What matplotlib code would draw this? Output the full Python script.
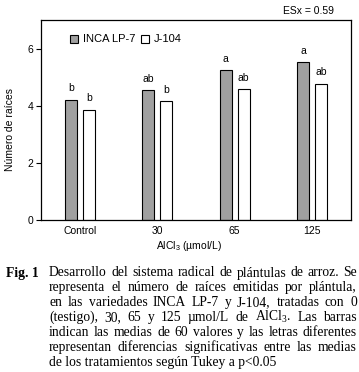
import numpy as np
import matplotlib
matplotlib.use("Agg")
import matplotlib.pyplot as plt
from matplotlib.patches import Patch

# data
categories = ["Control", "30", "65", "125"]
inca = [4.21, 4.55, 5.24, 5.52]
j104 = [3.86, 4.17, 4.58, 4.77]
letters_inca = ["b", "ab", "a", "a"]
letters_j104 = ["b", "b", "ab", "ab"]
yticks = [0, 2, 4, 6]

caption_lines = [
    "Desarrollo del sistema radical de plántulas de arroz. Se",
    "representa el número de raíces emitidas por plántula,",
    "en las variedades INCA LP-7 y J-104, tratadas con 0",
    r"(testigo), 30, 65 y 125 µmol/L de $\mathregular{AlCl_3}$. Las barras",
    "indican las medias de 60 valores y las letras diferentes",
    "representan diferencias significativas entre las medias",
    "de los tratamientos según Tukey a p<0.05",
]

SANS = "Liberation Sans"
SERIF = "Liberation Serif"
GRAY = "#a0a0a0"
W, H = 359, 372

fig = plt.figure(figsize=(W / 100, H / 100), dpi=100)
ax = fig.add_axes([41 / W, 1 - 220 / H, 310 / W, 200 / H])

x = np.arange(len(categories))
bw = 0.16
off = 0.116
ax.bar(x - off, inca, bw, color=GRAY, edgecolor="black", linewidth=0.8)
ax.bar(x + off, j104, bw, color="white", edgecolor="black", linewidth=0.8)

for xi, v, s in zip(x - off, inca, letters_inca):
    ax.annotate(s, (xi, v), xytext=(0, 4.5), textcoords="offset points",
                ha="center", va="bottom", fontsize=7.5, family=SANS)
for xi, v, s in zip(x + off, j104, letters_j104):
    ax.annotate(s, (xi, v), xytext=(0, 4.5), textcoords="offset points",
                ha="center", va="bottom", fontsize=7.5, family=SANS)

ax.set_xlim(-0.5, 3.5)
ax.set_ylim(0, 7)
ax.set_yticks(yticks)
ax.set_xticks(x)
ax.set_xticklabels(categories)
ax.tick_params(axis="x", length=0, pad=4)
ax.tick_params(axis="y", length=3.6, width=0.8, pad=2)
for lab in ax.get_xticklabels() + ax.get_yticklabels():
    lab.set_fontfamily(SANS)
    lab.set_fontsize(7.5)
for sp in ax.spines.values():
    sp.set_linewidth(0.9)

fig.text(10 / W, 1 - 129.5 / H, "Número de raíces", family=SANS, fontsize=7.5,
         rotation=90, ha="center", va="center")
fig.text(189 / W, 1 - 246 / H, r"$\mathregular{AlCl_3}$ (µmol/L)",
         family=SANS, fontsize=7.5, ha="center", va="center")
fig.text(334 / W, 1 - 11 / H, "ESx = 0.59", family=SANS, fontsize=7.5,
         ha="right", va="center")

handles = [Patch(facecolor=GRAY, edgecolor="black", linewidth=0.8),
           Patch(facecolor="white", edgecolor="black", linewidth=0.8)]
ax.legend(handles, ["INCA LP-7", "J-104"], ncol=2, loc="center left",
          bbox_to_anchor=(0.095, 0.9025), frameon=False, borderpad=0,
          borderaxespad=0, handlelength=0.72, handleheight=0.72,
          handletextpad=0.4, columnspacing=0.55,
          prop={"family": SANS, "size": 8})

# caption, justified like the printed figure
fig.text(6 / W, 1 - 276.5 / H, "Fig. 1", family=SERIF, fontsize=9.8,
         weight="bold", va="baseline")
renderer = fig.canvas.get_renderer()
x0, x1 = 49, 357
for i, line in enumerate(caption_lines):
    yb = 1 - (276.5 + i * 14.9) / H
    words = line.split(" ")
    if i == len(caption_lines) - 1:
        fig.text(x0 / W, yb, line, family=SERIF, fontsize=9.8, va="baseline")
        continue
    texts = [fig.text(0, yb, w, family=SERIF, fontsize=9.8, va="baseline")
             for w in words]
    widths = [t.get_window_extent(renderer).width for t in texts]
    gap = (x1 - x0 - sum(widths)) / (len(words) - 1)
    pos = x0
    for t, w in zip(texts, widths):
        t.set_x(pos / W)
        pos += w + gap

fig.savefig("out.png", dpi=100)
